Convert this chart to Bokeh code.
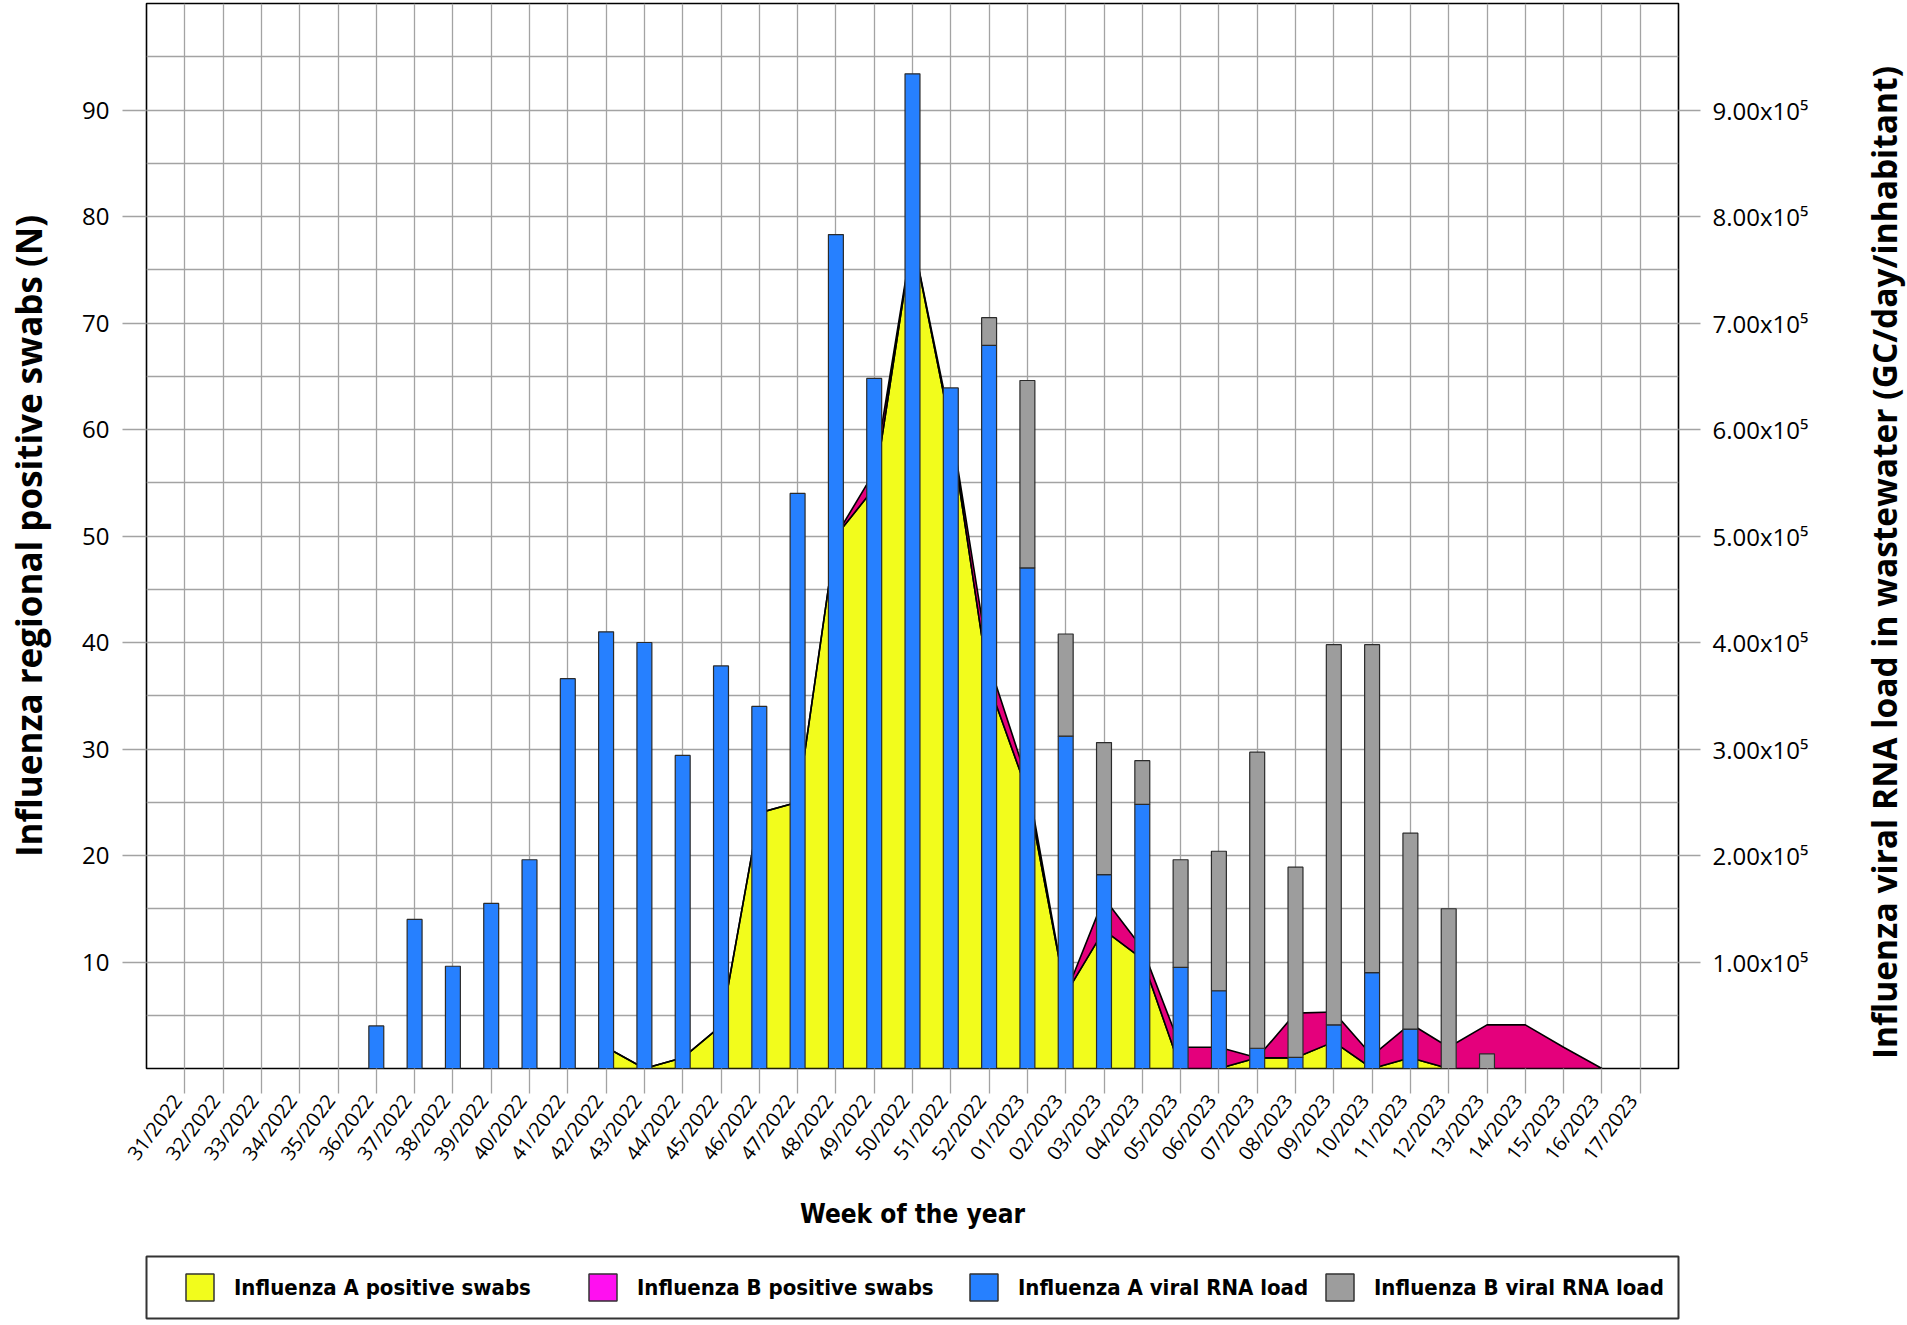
import math
from bokeh.plotting import figure
from bokeh.layouts import column, row
from bokeh.models import (Range1d, LinearAxis, FixedTicker, Legend, LegendItem,
                          CustomLabelingPolicy)
from bokeh.core.properties import value
from bokeh.embed import file_html
from bokeh.resources import INLINE

# ---------------- data ----------------
weeks = ["31/2022", "32/2022", "33/2022", "34/2022", "35/2022", "36/2022", "37/2022",
         "38/2022", "39/2022", "40/2022", "41/2022", "42/2022", "43/2022", "44/2022",
         "45/2022", "46/2022", "47/2022", "48/2022", "49/2022", "50/2022", "51/2022",
         "52/2022", "01/2023", "02/2023", "03/2023", "04/2023", "05/2023", "06/2023",
         "07/2023", "08/2023", "09/2023", "10/2023", "11/2023", "12/2023", "13/2023",
         "14/2023", "15/2023", "16/2023", "17/2023"]

# Influenza A / B regional positive swabs (N)
flu_a_swabs = [None, None, None, None, None, None, None, None, None, None, None,
               2, 0, 1, 4, 24, 25, 50, 54.5, 78, 60, 36,
               26, 7, 13, 10.3, 0, 0, 1, 1, 2.5, 0, 1, 0, 0, 0, 0, 0, None]
flu_b_swabs = [None, None, None, None, None, None, None, None, None, None, None,
               0, 0, 0, 0, 0, 0, 0, 1.5, 0, 0.5, 2,
               1, 0, 3, 1, 2, 2, 0, 4.2, 2.8, 1.2, 3.2, 2, 4.1, 4.1, 2, 0, None]

# Influenza A / B viral RNA load in wastewater (GC/day/inhabitant)
flu_a_load = [None, None, None, None, None,
              40000, 140000, 96000, 155000, 196000, 366000, 410000, 400000, 294000,
              378000, 340000, 540000, 783000, 648000, 934000, 639000, 679000,
              470000, 312000, 182000, 248000, 95000, 73000, 19000, 10500, 41000,
              90000, 37000, None, None, None, None, None, None]
flu_b_load = [None, None, None, None, None, None, None, None, None, None, None,
              None, None, None, None, None, None, None, None, None, None,
              26000, 176000, 96000, 124000, 41000, 101000, 131000, 278000, 178500,
              357000, 308000, 184000, 150000, 13700, None, None, None, None]

left_ticks = [10, 20, 30, 40, 50, 60, 70, 80, 90]
right_ticks = [100000, 200000, 300000, 400000, 500000, 600000, 700000, 800000, 900000]
right_tick_labels = ["1.00x10⁵", "2.00x10⁵", "3.00x10⁵", "4.00x10⁵", "5.00x10⁵",
                     "6.00x10⁵", "7.00x10⁵", "8.00x10⁵", "9.00x10⁵"]

legend_labels = ["Influenza A positive swabs", "Influenza B positive swabs",
                 "Influenza A viral RNA load", "Influenza B viral RNA load"]

left_title = "Influenza regional positive swabs (N)"
right_title = "Influenza viral RNA load in wastewater (GC/day/inhabitant)"
x_title = "Week of the year"

# ---------------- styles ----------------
YELLOW = "#f2fc1c"
MAGENTA = "#e4007c"
MAGENTA_KEY = "#ff10f0"
BLUE = "#2680ff"
GRAY = "#9d9d9d"
GRID = "#a3a3a3"
FONT = "Open Sans"
NARROW = "'DejaVu Sans Condensed', 'Liberation Sans Narrow', Roboto"
LABEL_SHIFT = 0.2      # rotated week labels sit slightly left of their tick

W_MAIN = 1848
W_TITLE = 59
MAIN_H = 1250
LEG_H = 73
BL = 146
BR = W_MAIN - 1678

x_pos = list(range(len(weeks)))            # week index on the x scale

p = figure(width=W_MAIN, height=MAIN_H,
           x_range=Range1d(-1, len(weeks)), y_range=Range1d(0, 100),
           output_backend="svg", toolbar_location=None,
           min_border_left=BL, min_border_right=BR, min_border_top=3, min_border_bottom=182)
p.extra_y_ranges = {"load": Range1d(0, 1000000)}
p.background_fill_color = "white"
p.border_fill_color = "white"
p.outline_line_color = "black"
p.outline_line_width = 1.6

# ---------------- stacked areas (positive swabs) ----------------
idx = [i for i, v in enumerate(flu_a_swabs) if v is not None]
xs = [x_pos[i] for i in idx]
a_vals = [flu_a_swabs[i] for i in idx]
ab_vals = [flu_a_swabs[i] + flu_b_swabs[i] for i in idx]
zeros = [0] * len(idx)

p.patch(x=xs + xs[::-1], y=a_vals + zeros[::-1],
        fill_color=YELLOW, line_color="black", line_width=1.6)
p.patch(x=xs + xs[::-1], y=ab_vals + a_vals[::-1],
        fill_color=MAGENTA, line_color="black", line_width=1.6)

# ---------------- stacked bars (viral RNA load) ----------------
nan = float("nan")
a_top = [v if v is not None else nan for v in flu_a_load]
b_bottom = [(a if a is not None else 0) for a in flu_a_load]
b_top = [(b_bottom[i] + b) if b is not None else nan for i, b in enumerate(flu_b_load)]

p.vbar(x=x_pos, top=a_top, bottom=0, width=0.39, y_range_name="load",
       fill_color=BLUE, line_color="#2b2b2b", line_width=1.2)
p.vbar(x=x_pos, top=b_top, bottom=b_bottom, width=0.39, y_range_name="load",
       fill_color=GRAY, line_color="#2b2b2b", line_width=1.2)

# ---------------- grid ----------------
p.xgrid.ticker = FixedTicker(ticks=x_pos)
p.xgrid.grid_line_color = GRID
p.xgrid.grid_line_width = 1.3
p.ygrid.ticker = FixedTicker(ticks=list(range(5, 100, 5)))
p.ygrid.grid_line_color = GRID
p.ygrid.grid_line_width = 1.3

# ---------------- axes ----------------
yl = p.yaxis[0]
yl.ticker = FixedTicker(ticks=left_ticks)
yl.axis_line_color = None
yl.major_tick_out = 24
yl.major_tick_in = 0
yl.minor_tick_out = 0
yl.minor_tick_in = 0
yl.major_tick_line_color = GRID
yl.major_tick_line_width = 1.3
yl.major_label_standoff = 13
yl.major_label_text_font = FONT
yl.major_label_text_font_size = "24px"
yl.major_label_text_color = "black"
yl.axis_label = left_title
yl.axis_label_text_font = FONT
yl.axis_label_text_font_style = "bold"
yl.axis_label_text_font_size = "35px"
yl.axis_label_text_color = "black"
yl.axis_label_standoff = 27

yr = LinearAxis(y_range_name="load", ticker=FixedTicker(ticks=right_ticks),
                major_label_overrides=dict(zip(right_ticks, right_tick_labels)))
yr.axis_line_color = None
yr.major_tick_out = 22
yr.major_tick_in = 0
yr.minor_tick_out = 0
yr.minor_tick_in = 0
yr.major_tick_line_color = GRID
yr.major_tick_line_width = 1.3
yr.major_label_standoff = 12
yr.major_label_text_font = FONT
yr.major_label_text_font_size = "24px"
yr.major_label_text_color = "black"
p.add_layout(yr, "right")

# x axis: tick marks only (one per week; its labels are suppressed) ...
xt = p.xaxis[0]
xt.ticker = FixedTicker(ticks=x_pos)
xt.axis_line_color = None
xt.major_tick_out = 25
xt.major_tick_in = 0
xt.minor_tick_out = 0
xt.minor_tick_in = 0
xt.major_tick_line_color = GRID
xt.major_tick_line_width = 1.3
xt.major_label_standoff = 0
xt.major_label_text_font_size = "0px"
xt.major_label_policy = CustomLabelingPolicy(code="for (const i of indices) indices.unset(i)")

# ... and the rotated week labels with the axis title
label_pos = [x - LABEL_SHIFT for x in x_pos]
xl = LinearAxis(ticker=FixedTicker(ticks=label_pos),
                major_label_overrides=dict(zip(label_pos, weeks)))
xl.axis_line_color = None
xl.major_tick_out = 0
xl.major_tick_in = 0
xl.minor_tick_out = 0
xl.minor_tick_in = 0
xl.major_tick_line_color = None
xl.major_label_orientation = 0.93
xl.major_label_standoff = 3
xl.major_label_text_font = FONT
xl.major_label_text_font_size = "20px"
xl.major_label_text_color = "black"
xl.axis_label = x_title
xl.axis_label_text_font = NARROW
xl.axis_label_text_font_style = "bold"
xl.axis_label_text_font_size = "26px"
xl.axis_label_text_color = "black"
xl.axis_label_standoff = 22
p.add_layout(xl, "below")

# ---------------- right-hand axis title (reads bottom-to-top) ----------------
tf = figure(width=W_TITLE, height=MAIN_H + LEG_H, x_range=Range1d(0, W_TITLE),
            y_range=Range1d(0, MAIN_H + LEG_H), x_axis_type=None, y_axis_type=None,
            output_backend="svg", toolbar_location=None,
            min_border_left=0, min_border_right=0, min_border_top=0, min_border_bottom=0)
tf.outline_line_color = None
tf.background_fill_color = "white"
tf.border_fill_color = "white"
tf.grid.visible = False
tf.text(x=[35], y=[MAIN_H + LEG_H - 562], text=[right_title], angle=math.pi / 2,
        text_align="center", text_baseline="middle", text_font=value(FONT),
        text_font_style="bold", text_font_size="33.5px", text_color="black")

# ---------------- legend (framed strip below the chart) ----------------
lp = figure(width=W_MAIN, height=LEG_H, x_range=Range1d(0, 1), y_range=Range1d(0, 1),
            x_axis_type=None, y_axis_type=None, output_backend="svg",
            toolbar_location=None, min_border_left=BL, min_border_right=BR - 3,
            min_border_top=6, min_border_bottom=5)
lp.background_fill_color = "white"
lp.border_fill_color = "white"
lp.outline_line_color = "#333333"
lp.outline_line_width = 2
lp.grid.visible = False

# legend key proxies (placed outside the visible range of the strip)
key_a = lp.patch(x=[-5, -4, -4], y=[-5, -5, -4], fill_color=YELLOW,
                 line_color="#333333", line_width=1.5)
key_b = lp.patch(x=[-5, -4, -4], y=[-5, -5, -4], fill_color=MAGENTA_KEY,
                 line_color="#333333", line_width=1.5)
key_c = lp.vbar(x=[-5], top=[-5], width=0.1, fill_color=BLUE,
                line_color="#333333", line_width=1.5)
key_d = lp.vbar(x=[-5], top=[-5], width=0.1, fill_color=GRAY,
                line_color="#333333", line_width=1.5)

key_x = [36, 439, 820, 1176]
for k, (r, lab) in enumerate(zip([key_a, key_b, key_c, key_d], legend_labels)):
    lg = Legend(items=[LegendItem(label=lab, renderers=[r])],
                location=(key_x[k], 14), orientation="horizontal",
                glyph_width=35, glyph_height=34, label_standoff=17, label_height=34,
                label_text_font=NARROW, label_text_font_style="bold",
                label_text_font_size="22px", label_text_color="black",
                padding=0, margin=0, border_line_color=None,
                background_fill_alpha=0)
    lp.add_layout(lg, "center")

open("out.html", "w").write(file_html(row(column(p, lp), tf), INLINE))
